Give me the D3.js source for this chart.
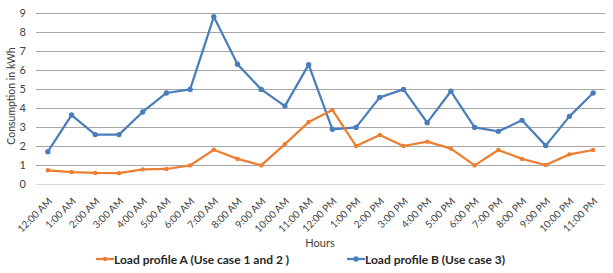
<!DOCTYPE html>
<html>
<head>
<meta charset="utf-8">
<script src="https://cdn.jsdelivr.net/npm/d3@7"></script>
<style>
  body { margin: 0; background: #fff; }
  text { font-family: Lato, "Open Sans", sans-serif; fill: #404040; }
</style>
</head>
<body>
<div id="chart"></div>
<script>
const hours = ['12:00 AM', '1:00 AM', '2:00 AM', '3:00 AM', '4:00 AM', '5:00 AM', '6:00 AM',
  '7:00 AM', '8:00 AM', '9:00 AM', '10:00 AM', '11:00 AM', '12:00 PM', '1:00 PM', '2:00 PM',
  '3:00 PM', '4:00 PM', '5:00 PM', '6:00 PM', '7:00 PM', '8:00 PM', '9:00 PM', '10:00 PM', '11:00 PM'];
const profileA = [0.72, 0.63, 0.58, 0.57, 0.77, 0.79, 0.98, 1.8, 1.32, 0.98, 2.1, 3.26,
  3.9, 2.0, 2.58, 2.0, 2.23, 1.86, 0.98, 1.79, 1.32, 1.0, 1.56, 1.79];
const profileB = [1.7, 3.63, 2.6, 2.6, 3.79, 4.79, 4.98, 8.8, 6.3, 4.98, 4.1, 6.28,
  2.88, 2.98, 4.56, 4.98, 3.23, 4.88, 2.98, 2.77, 3.35, 2.02, 3.56, 4.79];
const yTicks = [0, 1, 2, 3, 4, 5, 6, 7, 8, 9];
const seriesNames = ['Load profile A (Use case 1 and 2 )', 'Load profile B (Use case 3)'];
const colors = ['#ed7d31', '#4a7ebb'];

const width = 613, height = 273,
  margin = { left: 36, top: 13, right: 8, bottom: 89 };

const svg = d3.select('#chart').append('svg')
  .attr('width', width)
  .attr('height', height)

const x = d3.scaleBand().domain(hours)
  .range([margin.left, width - margin.right])
const y = d3.scaleLinear().domain([0, 9])
  .range([height - margin.bottom, margin.top])
const cx = (d) => x(d) + x.bandwidth() / 2

// gridlines
svg.append('g')
  .selectAll('line')
  .data(yTicks)
  .enter()
  .append('line')
  .attr('x1', margin.left)
  .attr('x2', width - margin.right)
  .attr('y1', (d) => Math.round(y(d)) + 0.5)
  .attr('y2', (d) => Math.round(y(d)) + 0.5)
  .attr('stroke', (d) => d === 0 ? '#d9d9d9' : '#a6a6a6')
  .attr('stroke-width', 1)

// y tick labels
svg.append('g')
  .selectAll('text')
  .data(yTicks)
  .enter()
  .append('text')
  .attr('x', 26)
  .attr('y', (d) => y(d) + 4)
  .attr('text-anchor', 'end')
  .style('font-size', '11px')
  .text((d) => d)

// x tick labels
svg.append('g')
  .selectAll('text')
  .data(hours)
  .enter()
  .append('text')
  .attr('transform', (d) => `translate(${cx(d) + 5},${y(0) + 18}) rotate(-45)`)
  .attr('text-anchor', 'end')
  .style('font-size', '10px')
  .text((d) => d)

// axis titles
svg.append('text')
  .attr('x', 320)
  .attr('y', 247)
  .attr('text-anchor', 'middle')
  .style('font-size', '11px')
  .text('Hours')

svg.append('text')
  .attr('transform', 'translate(15,96) rotate(-90)')
  .attr('text-anchor', 'middle')
  .style('font-size', '10.5px')
  .text('Consumption in kWh')

const line = d3.line()
  .x((d, i) => cx(hours[i]))
  .y((d) => y(d))

const drawSeries = (values, color, r) => {
  svg.append('path')
    .datum(values)
    .attr('d', line)
    .attr('fill', 'none')
    .attr('stroke', color)
    .attr('stroke-width', 2.25)
    .attr('stroke-linejoin', 'round')
  svg.append('g')
    .selectAll('circle')
    .data(values)
    .enter()
    .append('circle')
    .attr('cx', (d, i) => cx(hours[i]))
    .attr('cy', (d) => y(d))
    .attr('r', r)
    .attr('fill', color)
}

drawSeries(profileB, colors[1], 2.7)
drawSeries(profileA, colors[0], 2.2)

// legend
const legendX = [96, 347];
seriesNames.forEach((name, i) => {
  const lg = svg.append('g').attr('transform', `translate(${legendX[i]},259)`)
  lg.append('line')
    .attr('x1', 0).attr('x2', 18)
    .attr('y1', 0).attr('y2', 0)
    .attr('stroke', colors[i])
    .attr('stroke-width', 2.25)
  lg.append('circle')
    .attr('cx', 9).attr('cy', 0)
    .attr('r', i === 0 ? 2.2 : 2.7)
    .attr('fill', colors[i])
  lg.append('text')
    .attr('x', 18)
    .attr('y', 4.5)
    .style('font-size', '12px')
    .style('font-weight', 'bold')
    .style('fill', '#262626')
    .text(name)
})
</script>
</body>
</html>
